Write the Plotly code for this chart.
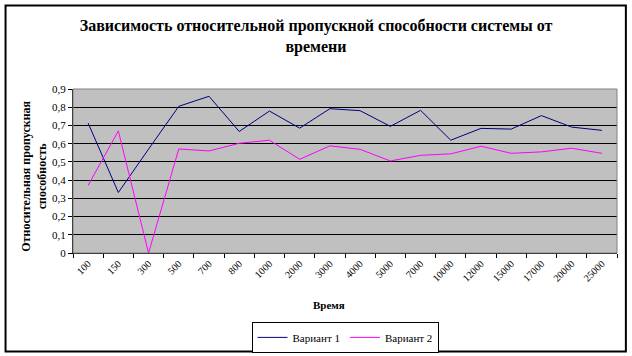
import plotly.graph_objects as go

categories = ["100", "150", "300", "500", "700", "800", "1000", "2000", "3000", "4000",
              "5000", "7000", "10000", "12000", "15000", "17000", "20000", "25000"]
variant1 = [0.713, 0.332, 0.57, 0.805, 0.86, 0.667, 0.779, 0.685, 0.792, 0.781,
            0.695, 0.783, 0.619, 0.684, 0.680, 0.754, 0.691, 0.673]
variant2 = [0.371, 0.670, 0.0, 0.571, 0.560, 0.602, 0.619, 0.514, 0.588, 0.569,
            0.505, 0.536, 0.544, 0.586, 0.547, 0.555, 0.575, 0.547]

serif = "Liberation Serif, Times New Roman, serif"

fig = go.Figure()
fig.add_trace(go.Scatter(x=categories, y=variant1, mode="lines", name="Вариант 1",
                         line=dict(color="#000080", width=1)))
fig.add_trace(go.Scatter(x=categories, y=variant2, mode="lines", name="Вариант 2",
                         line=dict(color="#FF00FF", width=1)))

fig.update_layout(
    width=632, height=356,
    margin=dict(l=73, r=15, t=89, b=103, autoexpand=False),
    paper_bgcolor="white", plot_bgcolor="#C0C0C0",
    separators=", ",
    font=dict(family=serif, size=11, color="black"),
    title=dict(text="<b>Зависимость относительной пропускной способности системы от<br>времени</b>",
               x=0.5, xanchor="center", y=0.912, yanchor="top",
               font=dict(family=serif, size=16)),
    showlegend=True,
    legend=dict(orientation="h", x=0.5, xanchor="center", y=-0.42, yanchor="top",
                bordercolor="black", borderwidth=1, bgcolor="white",
                font=dict(family=serif, size=11), itemwidth=30),
    xaxis=dict(type="category", showgrid=False, showline=True, linecolor="black",
               ticks="outside", tickson="boundaries", ticklen=4, tickcolor="black",
               tickangle=-45, tickfont=dict(family=serif, size=10), zeroline=False,
               automargin=False, range=[-0.5, len(categories) - 0.5]),
    yaxis=dict(range=[0, 0.9], dtick=0.1, showgrid=True, gridcolor="black", gridwidth=1,
               showline=True, linecolor="black", ticks="outside", ticklen=4,
               tickcolor="black", tickfont=dict(family=serif, size=11), zeroline=False,
               automargin=False),
    shapes=[
        dict(type="rect", xref="paper", yref="paper", x0=0, x1=1, y0=0, y1=1,
             line=dict(color="#808080", width=1), layer="above"),
        dict(type="rect", xref="paper", yref="paper", x0=-0.124, x1=1.0163, y0=-0.601, y1=1.509,
             line=dict(color="black", width=2)),
    ],
    annotations=[
        dict(text="<b>Относительная пропускная<br>способность</b>", xref="paper", yref="paper",
             x=-0.072, y=0.47, xanchor="center", yanchor="middle", textangle=-90,
             showarrow=False, font=dict(family=serif, size=12)),
        dict(text="<b>Время</b>", xref="paper", yref="paper", x=0.47, y=-0.317,
             xanchor="center", yanchor="middle",
             showarrow=False, font=dict(family=serif, size=11)),
    ],
)

fig.write_html("out.html", config={"displayModeBar": False},
               post_script="document.body.style.margin='0';")
